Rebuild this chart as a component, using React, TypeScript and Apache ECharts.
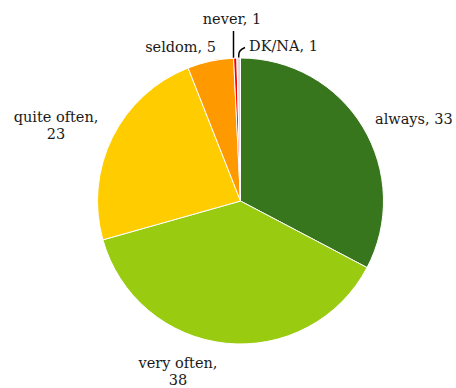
import React, { useEffect, useRef } from "react";
import * as echarts from "echarts";

// Slice sizes (share of the circle, %)
const categories = ["always", "very often", "quite often", "seldom", "never", "DK/NA"];
const sliceValues = [32.7, 37.9, 23.4, 5.2, 0.37, 0.4];
// Values shown in the labels
const labelValues = [33, 38, 23, 5, 1, 1];
const labelBreak = [false, true, true, false, false, false];
const colors = ["#38761d", "#99cc11", "#ffcc00", "#ff9900", "#ff0000", "#dddddd"];
const showLine = [false, false, false, false, true, true];

// label placement (layout only)
const labelPos: { x: number; y: number; align: string }[] = [
  { x: 375, y: 119, align: "left" },
  { x: 178, y: 371, align: "center" },
  { x: 56, y: 125, align: "center" },
  { x: 216, y: 47, align: "right" },
  { x: 232, y: 19, align: "center" },
  { x: 249, y: 46, align: "left" },
];
const linePoints: (number[][] | null)[] = [
  null,
  null,
  null,
  null,
  [[233.5, 31], [233.5, 59]],
  [[238.6, 59], [239, 50], [245, 47.5]],
];

export default function App() {
  const ref = useRef<HTMLDivElement>(null);
  useEffect(() => {
    document.body.style.margin = "0";
    const chart = echarts.init(ref.current!, null, { renderer: "svg" });
    chart.setOption({
      animation: false,
      backgroundColor: "#ffffff",
      series: [
        {
          type: "pie",
          center: [240.5, 201],
          radius: [0, 143],
          startAngle: 90,
          clockwise: true,
          avoidLabelOverlap: false,
          itemStyle: { borderColor: "#ffffff", borderWidth: 1 },
          label: {
            show: true,
            position: "outside",
            color: "#1a1a1a",
            fontFamily: "DejaVu Serif",
            fontSize: 14.5,
            lineHeight: 17,
          },
          labelLine: { show: true, length: 8, length2: 4, lineStyle: { color: "#000000", width: 1.5 } },
          labelLayout: (params: any) => {
            const i = params.dataIndex;
            const p = labelPos[i];
            const out: any = { x: p.x, y: p.y, align: p.align, verticalAlign: "middle", hideOverlap: false };
            if (linePoints[i]) out.labelLinePoints = linePoints[i];
            return out;
          },
          data: categories.map((c, i) => ({
            name: c,
            value: sliceValues[i],
            itemStyle: { color: colors[i] },
            label: {
              formatter: c + "," + (labelBreak[i] ? "\n" : " ") + labelValues[i],
              align: labelPos[i].align,
            },
            labelLine: { show: showLine[i], smooth: i === 5 ? 0.4 : false },
          })),
        },
      ],
    });
    return () => chart.dispose();
  }, []);
  return <div ref={ref} style={{ width: 456, height: 388 }} />;
}
